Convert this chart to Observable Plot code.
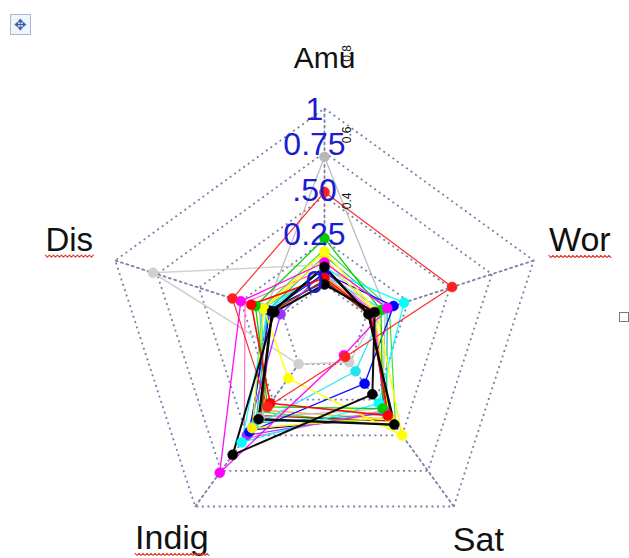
<!DOCTYPE html>
<html><head><meta charset="utf-8">
<script src="https://cdn.jsdelivr.net/npm/d3@7"></script>
<script src="https://cdn.jsdelivr.net/npm/@observablehq/plot@0.6"></script>
<style>
body{margin:0;background:#fff;width:629px;height:558px;overflow:hidden;position:relative;font-family:"Liberation Sans",Arial,sans-serif}
#chart{position:absolute;left:0;top:0}
.move{position:absolute;left:10px;top:14px;width:21px;height:21px;border:1px solid #a9b6cf;background:#f0f4fb;color:#3b5ea8;font-size:15px;line-height:19px;text-align:center;box-sizing:border-box}
.sq{position:absolute;left:619px;top:312px;width:10px;height:10px;border:1px solid #7a7a7a;box-sizing:border-box;background:#fff}
</style></head><body>
<div id="chart"></div>
<div class="move">✥</div><div class="sq"></div>
<script>
// ---- data ----
const axes = ["Amu", "Wor", "Sat", "Indig", "Dis"];
const gridLevels = [0.2, 0.4, 0.6, 0.8, 1];
const scaleLabels = ["0", "0.25", ".50", "0.75", "1"];
const innerLabels = ["0.8", "0.6", "0.4"];
const misspelled = ["Wor", "Indig", "Dis"];
// series values in axis order: Amu, Wor, Sat, Indig, Dis
const sRedOut   = [0.62, 0.61, 0.16, 0.44, 0.44];
const sMagenta  = [0.30, 0.30, 0.15, 0.81, 0.40];
const sGreen    = [0.41, 0.27, 0.45, 0.44, 0.33];
const sYellow   = [0.35, 0.25, 0.60, 0.28, 0.29];
const sBlack    = [0.28, 0.21, 0.54, 0.51, 0.25];
const sBlack2   = [0.20, 0.24, 0.37, 0.71, 0.24];
const sBlue     = [0.25, 0.33, 0.31, 0.58, 0.26];
const sCyan     = [0.27, 0.38, 0.42, 0.64, 0.27];
const sCyan2    = [0.24, 0.28, 0.24, 0.55, 0.30];
const sGray     = [0.78, 0.29, 0.45, 0.50, 0.28];
const sLightGray= [0.29, 0.26, 0.19, 0.20, 0.82];
const sRed2     = [0.23, 0.22, 0.49, 0.42, 0.35];
const sYellow2  = [0.32, 0.24, 0.50, 0.56, 0.29];
const sPurple   = [0.26, 0.23, 0.47, 0.60, 0.21];
const sBrown    = [0.22, 0.21, 0.52, 0.49, 0.25];
const sTeal     = [0.33, 0.30, 0.48, 0.53, 0.27];
const sOrange   = [0.24, 0.23, 0.51, 0.46, 0.31];
const sPink     = [0.27, 0.24, 0.46, 0.62, 0.38];
const sGreen2   = [0.36, 0.31, 0.55, 0.47, 0.30];
const sNavy     = [0.21, 0.22, 0.50, 0.57, 0.27];

// ---- series table (draw order, style) ----
const series = [
  {name: "Navy", values: sNavy, color: "#000080", w: 1.2, dots: false},
  {name: "Green2", values: sGreen2, color: "#33dd33", w: 1.2, dots: false},
  {name: "Orange", values: sOrange, color: "#ff9900", w: 1.2, dots: false},
  {name: "Teal", values: sTeal, color: "#00b894", w: 1.2, dots: false},
  {name: "Brown", values: sBrown, color: "#993300", w: 1.6, dots: false},
  {name: "Pink", values: sPink, color: "#ff66cc", w: 1.2, dots: false},
  {name: "LightGray", values: sLightGray, color: "#cfcfcf", w: 1.5, dots: true},
  {name: "Gray", values: sGray, color: "#b8b8b8", w: 1.3, dots: true},
  {name: "Purple", values: sPurple, color: "#9933ff", w: 1.3, dots: true},
  {name: "Cyan2", values: sCyan2, color: "#22e5f0", w: 1.3, dots: true},
  {name: "Cyan", values: sCyan, color: "#00ffff", w: 1.3, dots: true},
  {name: "Blue", values: sBlue, color: "#0000ff", w: 1.3, dots: true},
  {name: "Yellow2", values: sYellow2, color: "#ffee00", w: 1.3, dots: true},
  {name: "Yellow", values: sYellow, color: "#ffff00", w: 1.5, dots: true},
  {name: "Green", values: sGreen, color: "#00cc00", w: 1.3, dots: true},
  {name: "Magenta", values: sMagenta, color: "#ff00ff", w: 1.3, dots: true},
  {name: "Red2", values: sRed2, color: "#ff0000", w: 1.7, dots: true},
  {name: "RedOut", values: sRedOut, color: "#ff2020", w: 1.2, dots: true},
  {name: "Black2", values: sBlack2, color: "#000000", w: 2, dots: true},
  {name: "Black", values: sBlack, color: "#000000", w: 2.4, dots: true}
];

// ---- geometry helpers ----
const ang = i => Math.PI / 2 - i * 2 * Math.PI / axes.length;
const px = (i, r) => r * Math.cos(ang(i));
const py = (i, r) => r * Math.sin(ang(i));
const R = 220, CX = 324, CY = 328, W = 629, H = 558;
const FONT = "Liberation Sans, Arial, sans-serif";

const rings = gridLevels.flatMap(l => [...axes, axes[0]].map((a, k) => ({l, x: px(k % axes.length, l), y: py(k % axes.length, l)})));
const spokes = axes.flatMap((a, i) => [gridLevels[0], 1].map(r => ({a, x: px(i, r), y: py(i, r)})));

const marks = [];
marks.push(Plot.line(rings, {x: "x", y: "y", z: "l", stroke: "#7b81aa", strokeWidth: 1.8, strokeDasharray: "2,3.6", strokeLinecap: "butt"}));
marks.push(Plot.line(spokes, {x: "x", y: "y", z: "a", stroke: "#7b81aa", strokeWidth: 1.8, strokeDasharray: "2,3.6"}));

for (const s of series) {
  const pts = [...s.values, s.values[0]].map((v, k) => ({x: px(k % axes.length, v), y: py(k % axes.length, v)}));
  marks.push(Plot.line(pts, {x: "x", y: "y", stroke: s.color, strokeWidth: s.w, strokeOpacity: 0.95}));
}
for (const s of series) {
  if (!s.dots) continue;
  const pts = s.values.map((v, k) => ({x: px(k, v), y: py(k, v)}));
  marks.push(Plot.dot(pts, {x: "x", y: "y", r: 5, fill: s.color, stroke: s.color, strokeWidth: 0.5}));
}

// axis category labels
const labelR = [1.23, 1.22, 1.19, 1.18, 1.22];
const labelSize = [30, 34, 34, 34, 33];
const labelDy = [0, -5, 0, 0, -5];
const catLabels = axes.map((a, i) => ({a, i, x: px(i, labelR[i]), y: py(i, labelR[i])}));
for (const d of catLabels) {
  marks.push(Plot.text([d], {x: "x", y: "y", text: "a", fontSize: labelSize[d.i], dy: labelDy[d.i], fill: "#111", fontFamily: FONT}));
}

// red wavy spell-check underlines (computed from label position and measured text width)
const ctx = document.createElement("canvas").getContext("2d");
const waves = misspelled.flatMap(name => {
  const i = axes.indexOf(name);
  ctx.font = `${labelSize[i]}px "Liberation Sans"`;
  const w = ctx.measureText(name).width;
  const c = catLabels[i];
  const offPx = 0.32 * labelSize[i] + labelDy[i] + 5;
  const n = Math.round(w / 2);
  return d3.range(n + 1).map(k => ({name, x: c.x + (-w / 2 + k * 2) / R, y: c.y - (offPx + (k % 2 ? 1.1 : -1.1)) / R}));
});
marks.push(Plot.line(waves, {x: "x", y: "y", z: "name", stroke: "#e33a2a", strokeWidth: 1.1}));

// blue value labels (overlay on Amu axis)
const blueR = [0.21, 0.427, 0.627, 0.836, 0.995];
const blue = scaleLabels.map((t, i) => ({t, x: -10 / R, y: blueR[i]}));
marks.push(Plot.text(blue, {x: "x", y: "y", text: "t", fontSize: 32, fill: "#1c1cd2", fontFamily: FONT}));

// small rotated labels
const innerR = [1.25, 0.88, 0.58];
const small = innerLabels.map((t, i) => ({t, x: 23 / R, y: innerR[i]}));
marks.push(Plot.text(small, {x: "x", y: "y", text: "t", fontSize: 12, rotate: -90, fill: "#111", fontFamily: FONT}));

const chart = Plot.plot({
  width: W, height: H, margin: 0,
  x: {domain: [-CX / R, (W - CX) / R], range: [0, W], axis: null},
  y: {domain: [(CY - H) / R, CY / R], range: [H, 0], axis: null},
  style: {background: "#fff", overflow: "visible"},
  marks
});
document.getElementById("chart").append(chart);
</script>
</body></html>
